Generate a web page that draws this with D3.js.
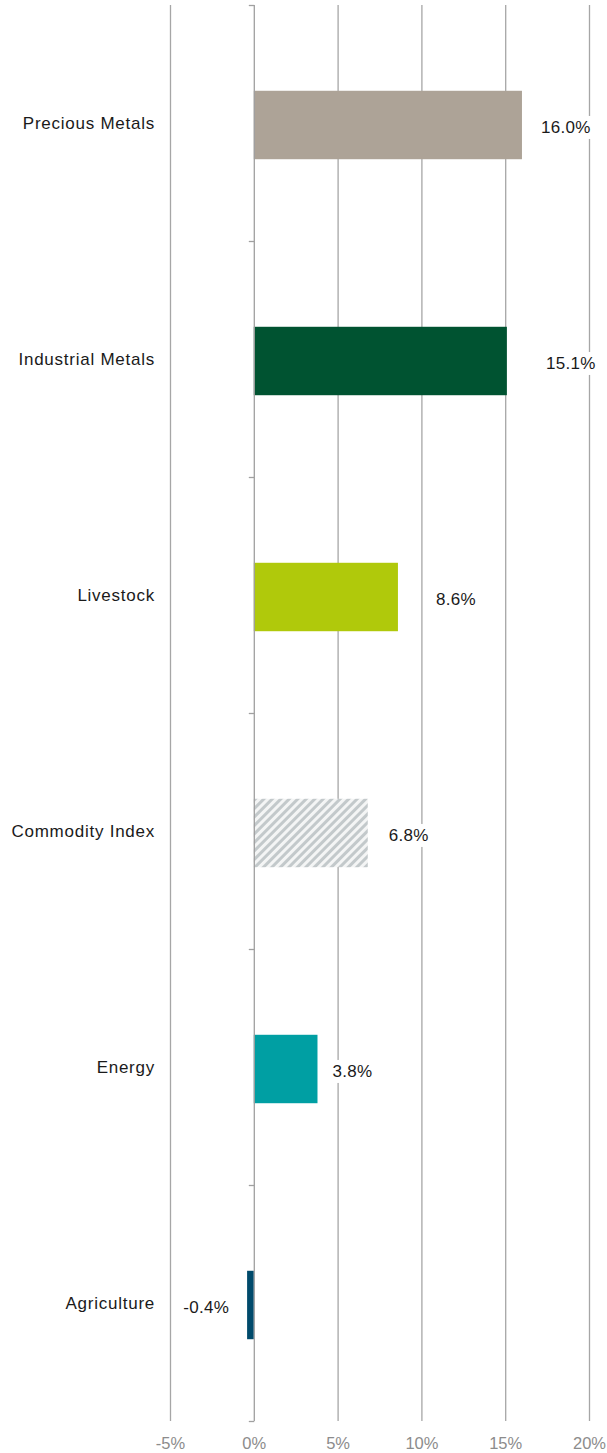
<!DOCTYPE html>
<html>
<head>
<meta charset="utf-8">
<script src="https://cdn.jsdelivr.net/npm/d3@7/dist/d3.min.js"></script>
<style>
  body { margin: 0; background: #fff; }
  text { font-family: "Liberation Sans", Arial, sans-serif; }
</style>
</head>
<body>
<div id="grafica"></div>
<script>
  // datos
  const categorias = ["Precious Metals", "Industrial Metals", "Livestock", "Commodity Index", "Energy", "Agriculture"];
  const valores = [16.0, 15.1, 8.6, 6.8, 3.8, -0.4];
  const colores = ["#ada397", "#005331", "#b0c90b", "url(#rayas)", "#009fa3", "#004a6b"];
  const ticksX = [-5, 0, 5, 10, 15, 20];
  // separacion etiqueta - barra (px)
  const separacion = [19, 39, 38, 21, 15, 18];

  const ancho = 607, alto = 1453;
  const arriba = 5, abajo = 1421;

  const svg = d3.select("#grafica")
    .append("svg")
    .attr("width", ancho)
    .attr("height", alto);

  // patron rayado
  const pat = svg.append("defs")
    .append("pattern")
    .attr("id", "rayas")
    .attr("patternUnits", "userSpaceOnUse")
    .attr("width", 6)
    .attr("height", 6)
    .attr("patternTransform", "rotate(45)");
  pat.append("rect").attr("width", 6).attr("height", 6).attr("fill", "#f4f5f5");
  pat.append("rect").attr("width", 3).attr("height", 6).attr("fill", "#c3c9cb");

  const x = d3.scaleLinear().domain([-5, 20]).range([170, 589]);
  // barras un poco por debajo del centro de la banda
  const y = d3.scaleBand()
    .domain(categorias)
    .range([arriba + 2, abajo + 2])
    .paddingInner(0.71)
    .paddingOuter(0.355);

  // lineas de rejilla
  svg.append("g")
    .selectAll("line")
    .data(ticksX.filter(d => d !== 0))
    .enter()
    .append("line")
    .attr("x1", d => x(d) + 0.5)
    .attr("x2", d => x(d) + 0.5)
    .attr("y1", arriba)
    .attr("y2", abajo)
    .attr("stroke", "#a6a6a6")
    .attr("stroke-width", 1.3);

  // barras
  const filas = categorias.map((c, i) => ({ c, v: valores[i], color: colores[i], gap: separacion[i] }));

  svg.append("g")
    .selectAll("rect")
    .data(filas)
    .enter()
    .append("rect")
    .attr("x", d => x(Math.min(0, d.v)))
    .attr("y", d => y(d.c))
    .attr("width", d => Math.abs(x(d.v) - x(0)))
    .attr("height", y.bandwidth())
    .attr("fill", d => d.color);

  // eje 0
  const eje = svg.append("g");
  eje.append("line")
    .attr("x1", x(0) + 0.5)
    .attr("x2", x(0) + 0.5)
    .attr("y1", arriba)
    .attr("y2", abajo)
    .attr("stroke", "#a0a0a0")
    .attr("stroke-width", 1.3);

  const limites = d3.range(categorias.length + 1).map(i => arriba + i * y.step());
  eje.selectAll(".marca")
    .data(limites)
    .enter()
    .append("line")
    .attr("x1", x(0) - 5)
    .attr("x2", x(0) + 0.5)
    .attr("y1", d => d + 0.5)
    .attr("y2", d => d + 0.5)
    .attr("stroke", "#a0a0a0")
    .attr("stroke-width", 1.3);

  // etiquetas categoria
  svg.append("g")
    .selectAll("text")
    .data(filas)
    .enter()
    .append("text")
    .attr("x", 155)
    .attr("y", d => y(d.c) + y.bandwidth() / 2 - 2)
    .attr("dy", "0.35em")
    .attr("text-anchor", "end")
    .attr("font-size", 17)
    .attr("letter-spacing", 0.75)
    .attr("fill", "#1a1a1a")
    .text(d => d.c);

  // etiquetas valor
  const etiquetas = svg.append("g")
    .selectAll("g")
    .data(filas)
    .enter()
    .append("g");

  etiquetas.append("text")
    .attr("class", "valor")
    .attr("x", d => d.v >= 0 ? x(d.v) + d.gap : x(d.v) - d.gap)
    .attr("y", d => y(d.c) + y.bandwidth() / 2 + 2)
    .attr("dy", "0.35em")
    .attr("text-anchor", d => d.v >= 0 ? "start" : "end")
    .attr("font-size", 17)
    .attr("letter-spacing", 0.3)
    .attr("fill", "#1a1a1a")
    .text(d => d.v.toFixed(1) + "%");

  etiquetas.each(function () {
    const g = d3.select(this);
    const b = g.select("text").node().getBBox();
    g.insert("rect", "text")
      .attr("x", b.x - 3)
      .attr("y", b.y - 2)
      .attr("width", b.width + 6)
      .attr("height", b.height + 4)
      .attr("fill", "#fff");
  });

  // etiquetas eje x
  svg.append("g")
    .selectAll("text")
    .data(ticksX)
    .enter()
    .append("text")
    .attr("x", d => x(d) + 0.5)
    .attr("y", 1443)
    .attr("dy", "0.35em")
    .attr("text-anchor", "middle")
    .attr("font-size", 16.5)
    .attr("fill", "#8c8c8c")
    .text(d => d + "%");
</script>
</body>
</html>
